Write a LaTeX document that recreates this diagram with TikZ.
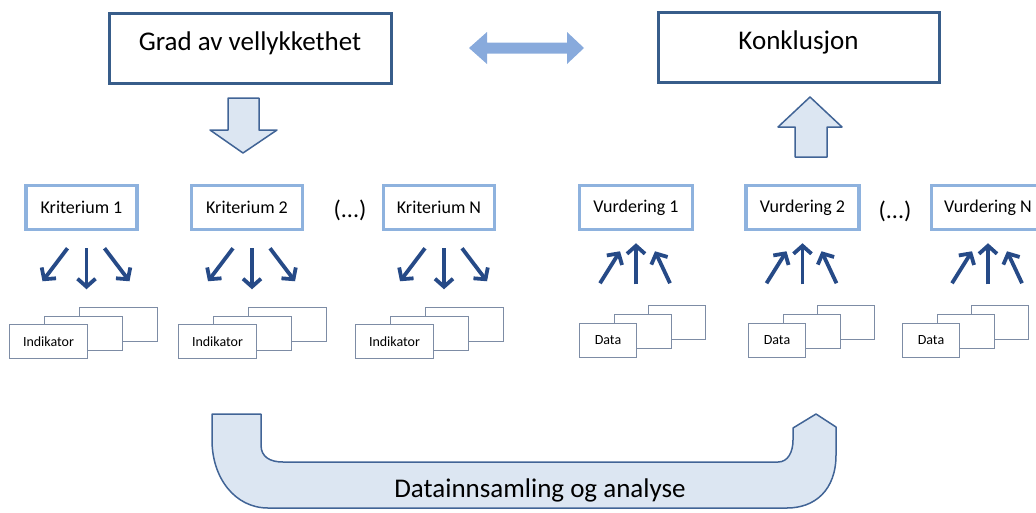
\documentclass[tikz,border=0pt]{standalone}
\usepackage{fontspec}
\setmainfont{Carlito}
\usetikzlibrary{arrows.meta,calc}
\definecolor{darkframe}{RGB}{56,93,138}
\definecolor{lightframe}{RGB}{142,178,222}
\definecolor{arrowblue}{RGB}{38,74,135}
\definecolor{blockfill}{RGB}{220,230,242}
\definecolor{blockline}{RGB}{65,100,150}
\definecolor{dblarrow}{RGB}{136,170,220}
\definecolor{cardline}{RGB}{125,140,165}
\begin{document}
\begin{tikzpicture}[x=1pt,y=-1pt,
 topbox/.style={draw=darkframe, line width=3pt, fill=white, inner sep=0pt, minimum height=70pt,
   font=\fontsize{27}{31}\selectfont, text height=18pt, text depth=15pt},
 midbox/.style={draw=lightframe, line width=3.5pt, fill=white, minimum height=44pt, inner sep=0pt,
   font=\fontsize{18}{21}\selectfont},
 card/.style={draw=cardline, line width=0.9pt, fill=white, minimum height=34pt, inner sep=0pt,
   font=\fontsize{14}{16}\selectfont},
 darr/.style={draw=arrowblue, line width=3.8pt, -{Straight Barb[length=8pt,width=18pt,line width=3.8pt]}},
 block/.style={draw=blockline, line width=1.5pt, fill=blockfill, line join=round},
 dots/.style={font=\fontsize{24}{28}\selectfont},
 bigtext/.style={font=\fontsize{27}{31}\selectfont}
]
\useasboundingbox (0,0) rectangle (1036,512);
\clip (0,0) rectangle (1036,512);

% top boxes
\node[topbox, minimum width=282pt] (grad) at (250,48.5) {Grad av vellykkethet};
\node[topbox, minimum width=281pt] (konk) at (798.5,47.5) {Konklusjon};

% double arrow
\fill[dblarrow] (469,48) -- (487,32) -- (487,42.5) -- (567,42.5) -- (567,32) -- (584,48)
  -- (567,64) -- (567,53.5) -- (487,53.5) -- (487,64) -- cycle;

% block arrows
\draw[block] (228,98) -- (259,98) -- (259,130) -- (277,130) -- (243,153) -- (210,130) -- (228,130) -- cycle;
\draw[block] (795,157) -- (827,157) -- (827,127) -- (842,127) -- (810,97) -- (778,127) -- (795,127) -- cycle;

% criterion / assessment boxes
\node[midbox, minimum width=111pt] (k1) at (81.5,207.5) {Kriterium 1};
\node[midbox, minimum width=111pt] (k2) at (247,207.5) {Kriterium 2};
\node[dots] (kdots) at (350,210) {(...)};
\node[midbox, minimum width=111pt] (kN) at (439,207.5) {Kriterium N};
\node[midbox, minimum width=113pt] (v1) at (636,207.5) {Vurdering 1};
\node[midbox, minimum width=113pt] (v2) at (802.5,207.5) {Vurdering 2};
\node[dots] (vdots) at (895,211) {(...)};
\node[midbox, minimum width=113pt] (vN) at (988,207.5) {Vurdering N};

% arrows down from criteria
\foreach \b in {k1,k2,kN}{
  \draw[darr] ($(\b.south)+(-14,17)$) coordinate (\b-l1) -- ($(\b.south)+(-39,50)$) coordinate (\b-l2);
  \draw[darr] ($(\b.south)+(5,17)$) coordinate (\b-m1) -- ($(\b.south)+(5,58)$) coordinate (\b-m2);
  \draw[darr] ($(\b.south)+(23,17)$) coordinate (\b-r1) -- ($(\b.south)+(48,50)$) coordinate (\b-r2);
}
% arrows up to assessments
\foreach \b in {v1,v2,vN}{
  \draw[darr] ($(\b.south)+(-36,52)$) coordinate (\b-l1) -- ($(\b.south)+(-16,20)$) coordinate (\b-l2);
  \draw[darr] ($(\b.south)+(0,53)$) coordinate (\b-m1) -- ($(\b.south)+(0,12)$) coordinate (\b-m2);
  \draw[darr] ($(\b.south)+(34,52)$) coordinate (\b-r1) -- ($(\b.south)+(19,20)$) coordinate (\b-r2);
}

% indicator stacks
\foreach \n/\x in {i1/9, i2/178, i3/355}{
  \node[card, minimum width=78pt] (\n-c) at (\x+109.5,324.5) {};
  \node[card, minimum width=78pt] (\n-b) at (\x+74.5,333) {};
  \node[card, minimum width=78pt] (\n-a) at (\x+39.5,341.5) {Indikator};
}
% data stacks
\foreach \n/\x in {d1/579, d2/748, d3/902}{
  \node[card, minimum width=57pt] (\n-c) at (\x+98,322) {};
  \node[card, minimum width=57pt] (\n-b) at (\x+63.5,331) {};
  \node[card, minimum width=57pt] (\n-a) at (\x+29,340) {Data};
}

% U-shaped block arrow
\draw[block] (212,414) -- (261,414) -- (261,445) .. controls (261,457) and (270,462) .. (283,462)
  -- (778,462) .. controls (788,462) and (793,452) .. (793,440) -- (793,428) -- (816,414)
  -- (836,427) -- (836,455) .. controls (836,490) and (815,508) .. (787,508)
  -- (268,508) .. controls (235,508) and (212,478) .. (212,440) -- cycle;
\node[bigtext] (dt) at (540,490) {Datainnsamling og analyse};
\end{tikzpicture}
\end{document}
